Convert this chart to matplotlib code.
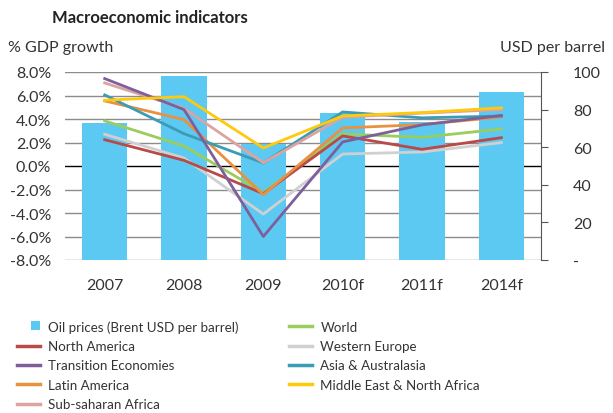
import numpy as np
import matplotlib.pyplot as plt
from matplotlib.patches import Patch, Rectangle
from matplotlib.lines import Line2D
from matplotlib.legend_handler import HandlerPatch

# ========================================
# Data
# ========================================

years = ["2007", "2008", "2009", "2010f", "2011f", "2014f"]
oil_prices = [72.8, 97.7, 61.8, 78.0, 73.2, 89.5]

north_america = [2.24, 0.48, -2.36, 2.56, 1.42, 2.41]
transition = [7.44, 4.8, -6.0, 2.05, 3.5, 4.3]
latin_america = [5.54, 3.95, -2.44, 3.24, 3.52, 4.18]
sub_saharan = [7.07, 4.9, 0.28, 4.15, 4.5, 4.8]
world = [3.84, 1.7, -2.27, 2.73, 2.44, 3.15]
western_europe = [2.7, 0.68, -4.09, 1.02, 1.19, 1.99]
asia = [6.05, 2.75, 0.26, 4.6, 4.1, 4.25]
middle_east = [5.6, 5.9, 1.53, 4.26, 4.55, 4.95]

left_ticks = [8, 6, 4, 2, 0, -2, -4, -6, -8]
right_ticks = [0, 20, 40, 60, 80, 100]

# ========================================
# Style
# ========================================

plt.rcParams['font.family'] = ['Lato', 'DejaVu Sans']
TEXT = "#333333"
BAR = "#5CC9F2"
FS = 11.5
LEG_FS = 9.6

series = [
    ("North America", north_america, "#B94A48"),
    ("Transition Economies", transition, "#7E5F9C"),
    ("Latin America", latin_america, "#E8913F"),
    ("Sub-saharan Africa", sub_saharan, "#DCA3A1"),
    ("World", world, "#9ACD5E"),
    ("Western Europe", western_europe, "#D0D0D0"),
    ("Asia & Australasia", asia, "#3A9DB5"),
    ("Middle East & North Africa", middle_east, "#FFC90E"),
]
draw_order = ["World", "Western Europe", "North America", "Latin America",
              "Asia & Australasia", "Sub-saharan Africa", "Transition Economies",
              "Middle East & North Africa"]

# ========================================
# Figure
# ========================================

W, H = 613, 414
fig = plt.figure(figsize=(W / 100, H / 100), dpi=100)
ax_pos = [65 / W, (H - 261) / H, 476 / W, 188 / H]

ax2 = fig.add_axes(ax_pos)   # bars (right axis)
ax = fig.add_axes(ax_pos)    # lines (left axis)
ax.patch.set_visible(False)

x = np.arange(len(years))

# gridlines on the bar axis so bars cover them
for v in left_ticks:
    ax2.axhline(v * 100 / 16 + 50, color="black" if v == 0 else "#8C8C8C",
                lw=1.0, zorder=0)
ax2.bar(x, oil_prices, width=0.57, color=BAR, zorder=2)
ax2.set_ylim(0, 100)
ax2.set_xlim(-0.5, len(years) - 0.5)
ax2.yaxis.tick_right()
ax2.set_yticks(right_ticks)
ax2.set_yticklabels(["-"] + [str(t) for t in right_ticks[1:]])
ax2.tick_params(axis="y", direction="out", length=5, width=0.8, color="#555555",
                labelsize=FS, labelcolor=TEXT, pad=18)
ax2.tick_params(axis="x", length=0)
ax2.set_xticks([])
for s in ["top", "left", "bottom"]:
    ax2.spines[s].set_visible(False)
ax2.spines["right"].set_color("#555555")
ax2.spines["right"].set_linewidth(0.8)

# lines
lookup = {name: (vals, col) for name, vals, col in series}
for i, name in enumerate(draw_order):
    vals, col = lookup[name]
    ax.plot(x, vals, color=col, lw=2.0, zorder=3 + i)
ax.set_ylim(-8, 8)
ax.set_xlim(-0.5, len(years) - 0.5)
ax.set_yticks(left_ticks)
ax.set_yticklabels([f"{t:.1f}%" for t in left_ticks])
ax.set_xticks(x)
ax.set_xticklabels(years)
ax.tick_params(axis="both", length=0, labelsize=FS, labelcolor=TEXT)
ax.tick_params(axis="x", pad=13)
ax.tick_params(axis="y", pad=10)
for s in ax.spines.values():
    s.set_visible(False)

# titles
fig.text(52 / W, 1 - 18 / H, "Macroeconomic indicators", fontsize=12,
         fontweight="bold", color="#222222", va="center", ha="left")
fig.text(8 / W, 1 - 48 / H, "% GDP growth", fontsize=FS, color=TEXT,
         va="center", ha="left")
fig.text(605 / W, 1 - 48 / H, "USD per barrel", fontsize=FS, color=TEXT,
         va="center", ha="right")


# legend: small square at the right end of the handle box
def small_square(legend, orig_handle, xdescent, ydescent, width, height, fontsize):
    s = height + 1
    return Rectangle((width - s - xdescent, (height - s) / 2 - ydescent), s, s)


handles = [Patch(facecolor=BAR, edgecolor="none")]
labels = ["Oil prices (Brent USD per barrel)"]
for name, vals, col in series:
    handles.append(Line2D([], [], color=col, lw=2.5))
    labels.append(name)
fig.legend(handles, labels, ncol=2, loc="upper left",
           bbox_to_anchor=(17 / W, 1 - 321 / H), frameon=False,
           fontsize=LEG_FS, labelcolor=TEXT, handlelength=1.73, handleheight=0.5,
           handletextpad=0.6, labelspacing=0.55, columnspacing=3.8,
           borderaxespad=0, borderpad=0,
           handler_map={Patch: HandlerPatch(patch_func=small_square)})

fig.savefig("out.png", dpi=100)
